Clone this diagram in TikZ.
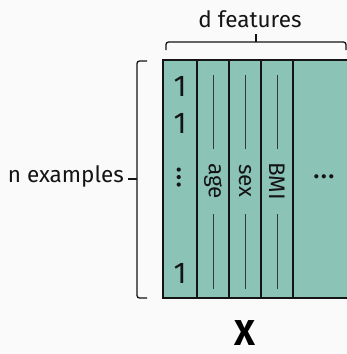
\documentclass[tikz,border=0pt]{standalone}
\usepackage{fontspec}
\setmainfont{Fira Sans}
\definecolor{cellfill}{HTML}{8CC3B7}
\definecolor{ink}{HTML}{141414}
\definecolor{paper}{HTML}{FAFAFA}
\tikzset{
  grid line/.style={draw=ink, line width=1.3pt},
  guide/.style={draw=ink!85, line width=0.9pt},
  bracket/.style={draw=ink, line width=1.3pt, rounded corners=2.5pt},
  label/.style={font=\fontsize{22.5}{24}\selectfont, text=ink, inner sep=0pt},
  cell/.style={font=\fontsize{30}{32}\selectfont, text=ink, inner sep=0pt},
}
\begin{document}
\begin{tikzpicture}[x=1pt,y=1pt]
  \fill[paper] (0,0) rectangle (347,-354);
  \useasboundingbox (0,0) rectangle (347,-354);
  \begin{scope}
    \clip (0,0) rectangle (347,-354);
    % the data matrix, running off to the right
    \fill[cellfill] (163,-60) rectangle (370,-298);
    \draw[grid line] (370,-60) -- (163,-60) -- (163,-298) -- (370,-298);
    \foreach \cx in {197,229,261,293}
      \draw[grid line] (\cx,-60) -- (\cx,-298);
  \end{scope}

  % intercept column
  \node[cell] (one1) at (180,-86) {1};
  \node[cell] (one2) at (180,-123) {1};
  \node[cell, rotate=-90] (vdots) at (179,-178) {…};
  \node[cell] (onen) at (180,-273) {1};

  % feature columns, each name between two guide strokes
  \foreach \cx/\name/\txt in {213/age/age, 245/sex/sex, 277/bmi/BMI} {
    \node[label, rotate=-90] (\name) at (\cx,-181) {\txt};
    \coordinate (\name top) at (\cx,-75);
    \coordinate (\name above) at (\cx,-149);
    \coordinate (\name below) at (\cx,-214);
    \coordinate (\name bot) at (\cx,-289);
    \draw[guide] (\name top) -- (\name above);
    \draw[guide] (\name below) -- (\name bot);
  }
  \node[cell] (hdots) at (324,-177) {…};

  % left bracket: n examples
  \coordinate (lt) at (147,-61);
  \coordinate (lb) at (147,-298);
  \coordinate (lmid) at (137,-179);
  \coordinate (ltip) at (128,-179);
  \draw[bracket] (lt) -- (137,-61) -- (137,-298) -- (lb);
  \draw[bracket] (lmid) -- (ltip);
  \node[label, anchor=east] (nex) at (124,-176) {n examples};

  % top bracket: d features
  \coordinate (tl) at (166,-50);
  \coordinate (tr) at (346,-50);
  \coordinate (tmid) at (256,-42);
  \coordinate (ttip) at (256,-34);
  \draw[bracket] (tl) -- (166,-42) -- (346,-42) -- (tr);
  \draw[bracket] (tmid) -- (ttip);
  \node[label] (dfeat) at (250,-19) {d features};

  \node[font=\bfseries\fontsize{36}{40}\selectfont, text=black, inner sep=0pt] (xmat) at (245,-333) {X};
\end{tikzpicture}
\end{document}
